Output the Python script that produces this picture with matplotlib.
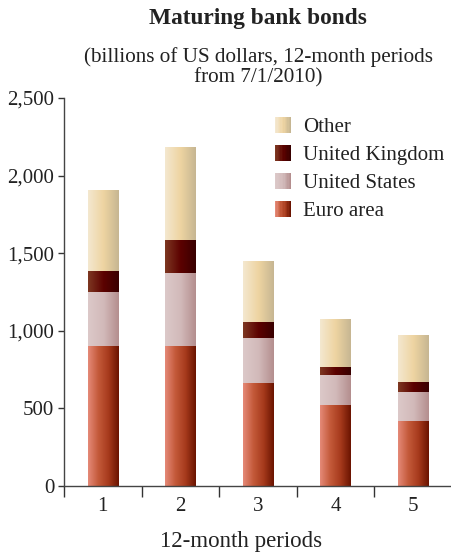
import numpy as np
import matplotlib
matplotlib.use("Agg")
import matplotlib.pyplot as plt
from matplotlib.colors import LinearSegmentedColormap
from matplotlib.patches import Rectangle
from matplotlib.legend_handler import HandlerBase

# data (billions of US dollars)
periods = ["1", "2", "3", "4", "5"]
euro_area = [900, 900, 665, 520, 420]
united_states = [350, 470, 290, 195, 185]
united_kingdom = [135, 215, 100, 50, 65]
other = [520, 600, 395, 310, 305]

series = [
    ("Euro area", euro_area, ["#e58a78", "#c45a3a", "#a63a1c", "#6a1300"]),
    ("United States", united_states, ["#dcc9c9", "#d2baba", "#b48e8e"]),
    ("United Kingdom", united_kingdom, ["#7e3822", "#5c0200", "#380000"]),
    ("Other", other, ["#f4e8d0", "#eed4a2", "#c6b692"]),
]

plt.rcParams["font.family"] = ["Liberation Serif", "DejaVu Serif"]

fig = plt.figure(figsize=(4.52, 5.56), dpi=100)
ax = fig.add_axes([64 / 452, 70 / 556, 388 / 452, 388 / 556])

x = np.arange(len(periods))
grad = np.linspace(0, 1, 256).reshape(1, -1)
bottom = np.zeros(len(periods))
cmaps = {}
for name, vals, cols in series:
    cmap = LinearSegmentedColormap.from_list(name, cols)
    cmaps[name] = cmap
    bars = ax.bar(x, vals, width=0.39, bottom=bottom, color="none", edgecolor="none")
    # horizontal gradient fill, clipped to each bar
    for r in bars:
        x0, y0 = r.get_x(), r.get_y()
        w, h = r.get_width(), r.get_height()
        im = ax.imshow(grad, cmap=cmap, aspect="auto",
                       extent=(x0, x0 + w, y0, y0 + h), zorder=2)
        im.set_clip_path(r)
    bottom = bottom + np.array(vals)

ax.set_xlim(-0.5, 4.5)
ax.set_ylim(0, 2500)
ax.set_yticks([0, 500, 1000, 1500, 2000, 2500])
ax.set_yticklabels(["0", "500", "1,000", "1,500", "2,000", "2,500"])
ax.set_xticks(x)
ax.set_xticklabels(periods)
ax.set_xticks(np.arange(-0.5, 4.5, 1), minor=True)
ax.tick_params(axis="x", which="major", length=0, pad=8, labelsize=15, colors="#222222")
ax.tick_params(axis="x", which="minor", length=8, width=1, color="#333333")
ax.tick_params(axis="y", length=4, width=1, color="#333333", labelsize=15, labelcolor="#222222", pad=3)
for s in ["top", "right"]:
    ax.spines[s].set_visible(False)
for s in ["left", "bottom"]:
    ax.spines[s].set_color("#444444")
    ax.spines[s].set_linewidth(1)
ax.set_xlabel("12-month periods", fontsize=16.5, color="#222222", labelpad=11)
ax.xaxis.label.set_x(0.457)


class GradHandler(HandlerBase):
    def create_artists(self, legend, orig_handle, xdescent, ydescent,
                       width, height, fontsize, trans):
        cmap = cmaps[orig_handle.get_label()]
        n = 12
        w = width
        h = width
        arts = []
        for i in range(n):
            arts.append(Rectangle((-xdescent + i * w / n, -ydescent + (height - h) / 2), w / n + 0.05, h,
                                  facecolor=cmap(i / (n - 1)), edgecolor="none",
                                  transform=trans))
        return arts


handles = [Rectangle((0, 0), 1, 1, label=name) for name, _, _ in reversed(series)]
ax.legend(handles=handles, labels=[h.get_label() for h in handles],
          handler_map={Rectangle: GradHandler()},
          loc="upper left", bbox_to_anchor=(0.544, 0.949), frameon=False,
          borderaxespad=0, borderpad=0,
          fontsize=15, handlelength=0.78, handletextpad=0.58, labelspacing=0.4,
          labelcolor="#222222")

fig.text(0.571, 0.967, "Maturing bank bonds", ha="center", va="center",
         fontsize=16.8, fontweight="bold", color="#222222")
fig.text(0.571, 0.879, "(billions of US dollars, 12-month periods\nfrom 7/1/2010)",
         ha="center", va="center", fontsize=15.2, color="#222222", linespacing=1.03)

fig.savefig("out.png", dpi=100)
